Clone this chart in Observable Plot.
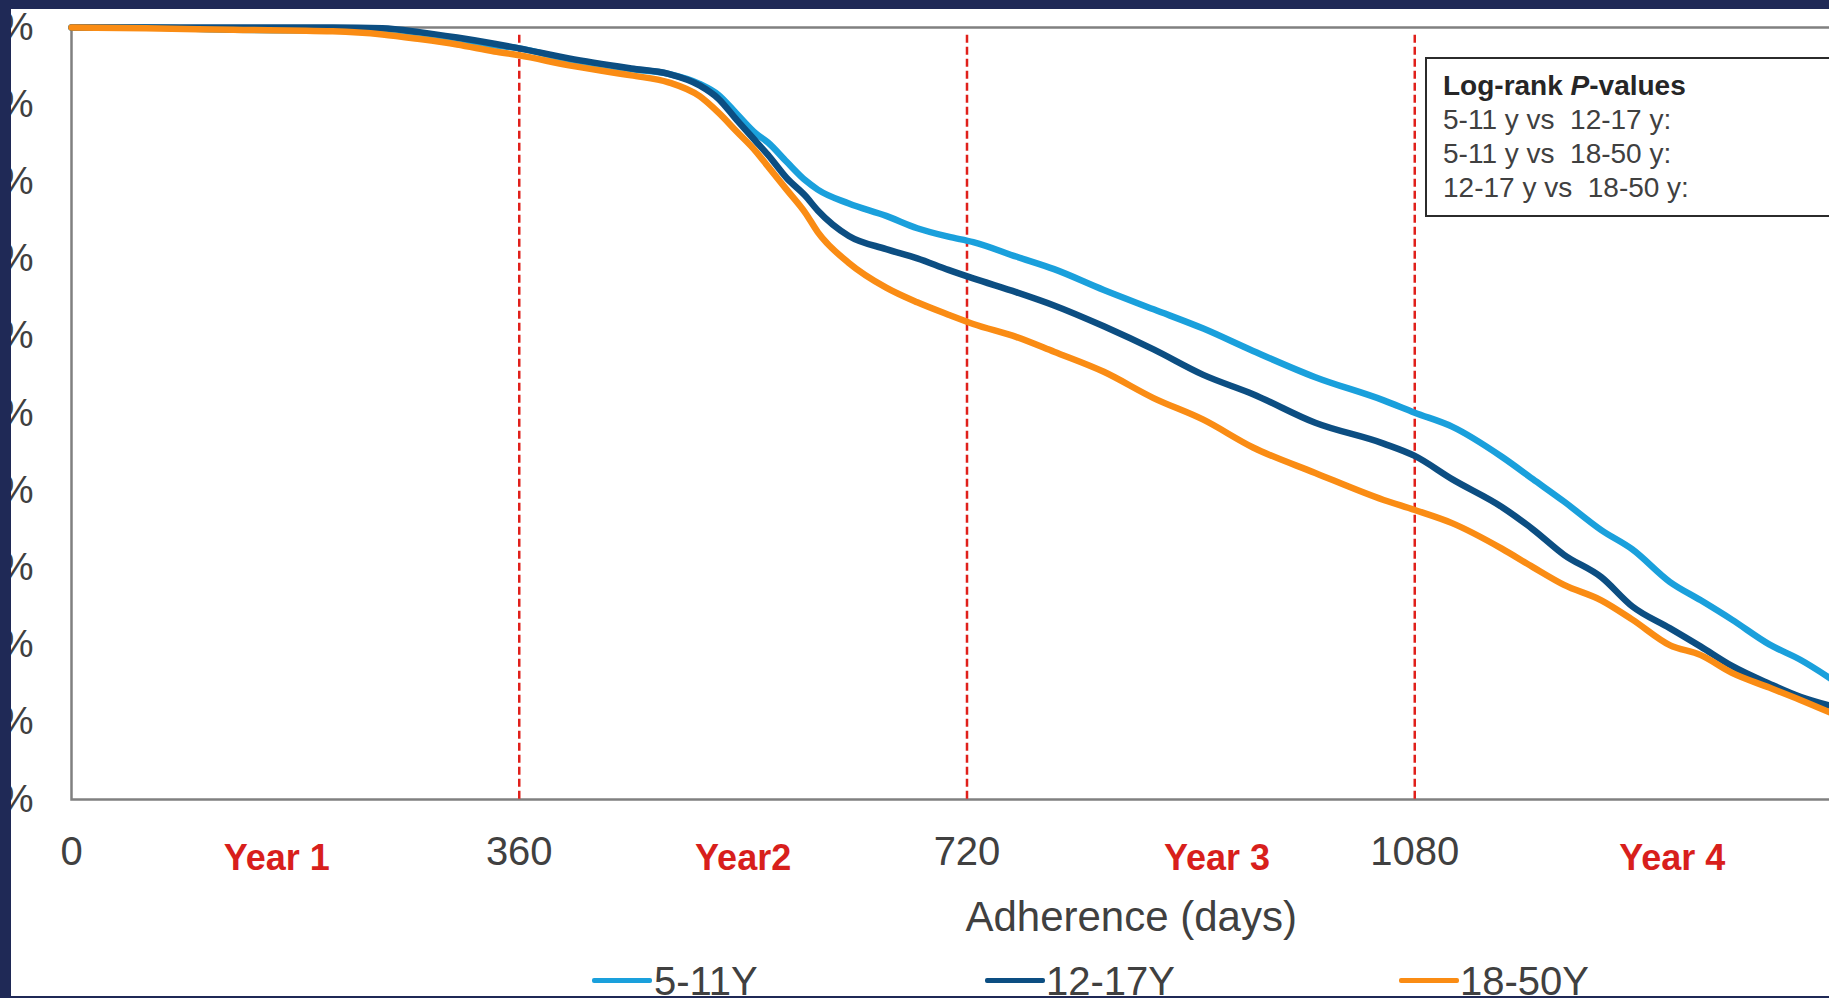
<!DOCTYPE html>
<html><head><meta charset="utf-8">
<script src="https://cdn.jsdelivr.net/npm/d3@7"></script>
<script src="https://cdn.jsdelivr.net/npm/@observablehq/plot@0.6"></script>
<style>
html,body{margin:0;padding:0;background:#1f2956;width:1829px;height:998px;overflow:hidden;}
#panel{position:absolute;left:11px;top:9px;width:1818px;height:987px;background:#fff;overflow:hidden;font-family:"Liberation Sans",Arial,sans-serif;}
#chart svg{position:absolute;left:-60px;top:0;max-width:none !important;}
#pbox{position:absolute;left:1414px;top:48px;width:600px;height:160px;box-sizing:border-box;border:2px solid #2b2b2b;background:#fff;padding:10px 0 0 16px;font-size:28px;line-height:34px;color:#404040;white-space:pre;}
#pbox .t{font-weight:bold;color:#262626;}
.lg{position:absolute;}
.lg .ln{position:absolute;top:17px;width:60px;height:5px;border-radius:2px;}
.lg .tx{position:absolute;left:62px;top:0;font-size:40px;line-height:40px;color:#404040;white-space:nowrap;}
</style>
</head><body>
<div id="panel"><div id="chart"></div><div id="pbox"></div><div id="legend"></div></div>
<script>
const days = [0, 60, 130, 210, 250, 280, 310, 340, 360, 400, 450, 480, 505, 520, 535, 550, 560, 575, 590, 600, 625, 655, 680, 705, 725, 760, 790, 830, 870, 910, 950, 1000, 1055, 1080, 1110, 1150, 1175, 1200, 1230, 1255, 1285, 1310, 1335, 1365, 1390, 1415];
const pct511 = [100, 100, 99.7, 99.6, 99.3, 98.8, 98.3, 97.7, 97.3, 95.8, 94.6, 94.0, 92.7, 91.3, 88.8, 86.3, 85.1, 82.6, 80.2, 79.0, 77.2, 75.6, 74.0, 72.9, 72.2, 70.3, 68.7, 66.0, 63.5, 61.0, 58.1, 54.7, 51.7, 50.1, 48.3, 44.4, 41.5, 38.6, 34.9, 32.4, 28.2, 25.8, 23.3, 20.1, 18.1, 15.6];
const pct1217 = [100, 100, 100, 100, 99.9, 99.4, 98.7, 97.9, 97.3, 96.0, 94.7, 94.0, 92.5, 90.8, 88.0, 85.3, 83.5, 80.5, 78.2, 76.3, 73.0, 71.3, 70.1, 68.6, 67.5, 65.7, 64.0, 61.3, 58.3, 55.0, 52.5, 48.8, 46.1, 44.5, 41.5, 37.9, 35.0, 31.7, 28.8, 25.0, 22.2, 19.8, 17.3, 15.0, 13.3, 12.1];
const pct1850 = [100, 99.9, 99.7, 99.5, 99.1, 98.5, 97.8, 96.9, 96.4, 95.1, 93.8, 92.9, 91.1, 89.0, 86.5, 84.0, 82.0, 79.0, 76.0, 73.5, 69.5, 66.3, 64.4, 62.8, 61.6, 59.9, 58.0, 55.4, 52.0, 49.2, 45.6, 42.3, 38.8, 37.5, 35.8, 32.5, 30.1, 27.8, 25.8, 23.3, 20.0, 18.7, 16.4, 14.5, 12.9, 11.2];
const groups = ["5-11Y", "12-17Y", "18-50Y"];
const colors = ["#1aa0dc", "#0c4e82", "#fa8c14"];
const xTicks = [0, 360, 720, 1080];
const yTicks = [0, 10, 20, 30, 40, 50, 60, 70, 80, 90, 100];
const yearLabels = ["Year 1", "Year2", "Year 3", "Year 4"];
const yearLabelDays = [165, 540, 921, 1287];
const xTitle = "Adherence (days)";
const pTitle = ["Log-rank ", "P", "-values"];
const pTests = ["5-11 y vs  12-17 y:", "5-11 y vs  18-50 y:", "12-17 y vs  18-50 y:"];

const series = [pct511, pct1217, pct1850];
const rows = [];
series.forEach((arr, i) => days.forEach((d, j) => rows.push({group: groups[i], day: d, pct: arr[j]})));

const RED = "#d81f1c";
const chart = Plot.plot({
  width: 1931, height: 987,
  marginLeft: 120, marginRight: 20, marginTop: 18, marginBottom: 197,
  style: {background: "transparent", fontFamily: "'Liberation Sans', Arial, sans-serif", color: "#404040", overflow: "visible", maxWidth: "none"},
  x: {domain: [0, 1440]},
  y: {domain: [0, 100]},
  color: {domain: groups, range: colors},
  marks: [
    Plot.frame({stroke: "#808080", strokeWidth: 2.5}),
    Plot.ruleX(xTicks.slice(1), {y1: 99, y2: 0, stroke: "#e0201b", strokeWidth: 2.5, strokeDasharray: "8,4"}),
    Plot.line(rows, {x: "day", y: "pct", z: "group", stroke: "group", strokeWidth: 6.5, curve: "monotone-x"}),
    Plot.axisY(yTicks, {tickSize: 0, tickPadding: 38, tickFormat: d => d + "%", fontSize: 38, label: null}),
    Plot.axisX(xTicks, {tickSize: 0, tickPadding: 37, fontSize: 40, label: null, tickFormat: d => String(d)}),
    Plot.text(yearLabels, {x: (d, i) => yearLabelDays[i], text: d => d, frameAnchor: "bottom", lineAnchor: "bottom", dy: 70, fill: RED, fontWeight: "bold", fontSize: 36}),
    Plot.text([xTitle], {x: () => 852, text: d => d, frameAnchor: "bottom", lineAnchor: "bottom", dy: 131, fontSize: 42, fill: "#404040"})
  ]
});
document.getElementById("chart").appendChild(chart);

// p-value box
const pbox = document.getElementById("pbox");
const t = document.createElement("div");
t.className = "t";
t.innerHTML = pTitle[0] + "<i>" + pTitle[1] + "</i>" + pTitle[2];
pbox.appendChild(t);
pTests.forEach(s => { const d = document.createElement("div"); d.textContent = s; pbox.appendChild(d); });

// legend
const legendPos = [[581, 643], [974, 1035], [1388, 1449]];
const legend = document.getElementById("legend");
groups.forEach((g, i) => {
  const item = document.createElement("div");
  item.className = "lg";
  item.style.left = legendPos[i][0] + "px";
  item.style.top = "952px";
  const ln = document.createElement("div");
  ln.className = "ln"; ln.style.left = "0px"; ln.style.background = colors[i];
  const tx = document.createElement("div");
  tx.className = "tx"; tx.textContent = g;
  tx.style.left = (legendPos[i][1] - legendPos[i][0]) + "px";
  item.appendChild(ln); item.appendChild(tx);
  legend.appendChild(item);
});
</script>
</body></html>
